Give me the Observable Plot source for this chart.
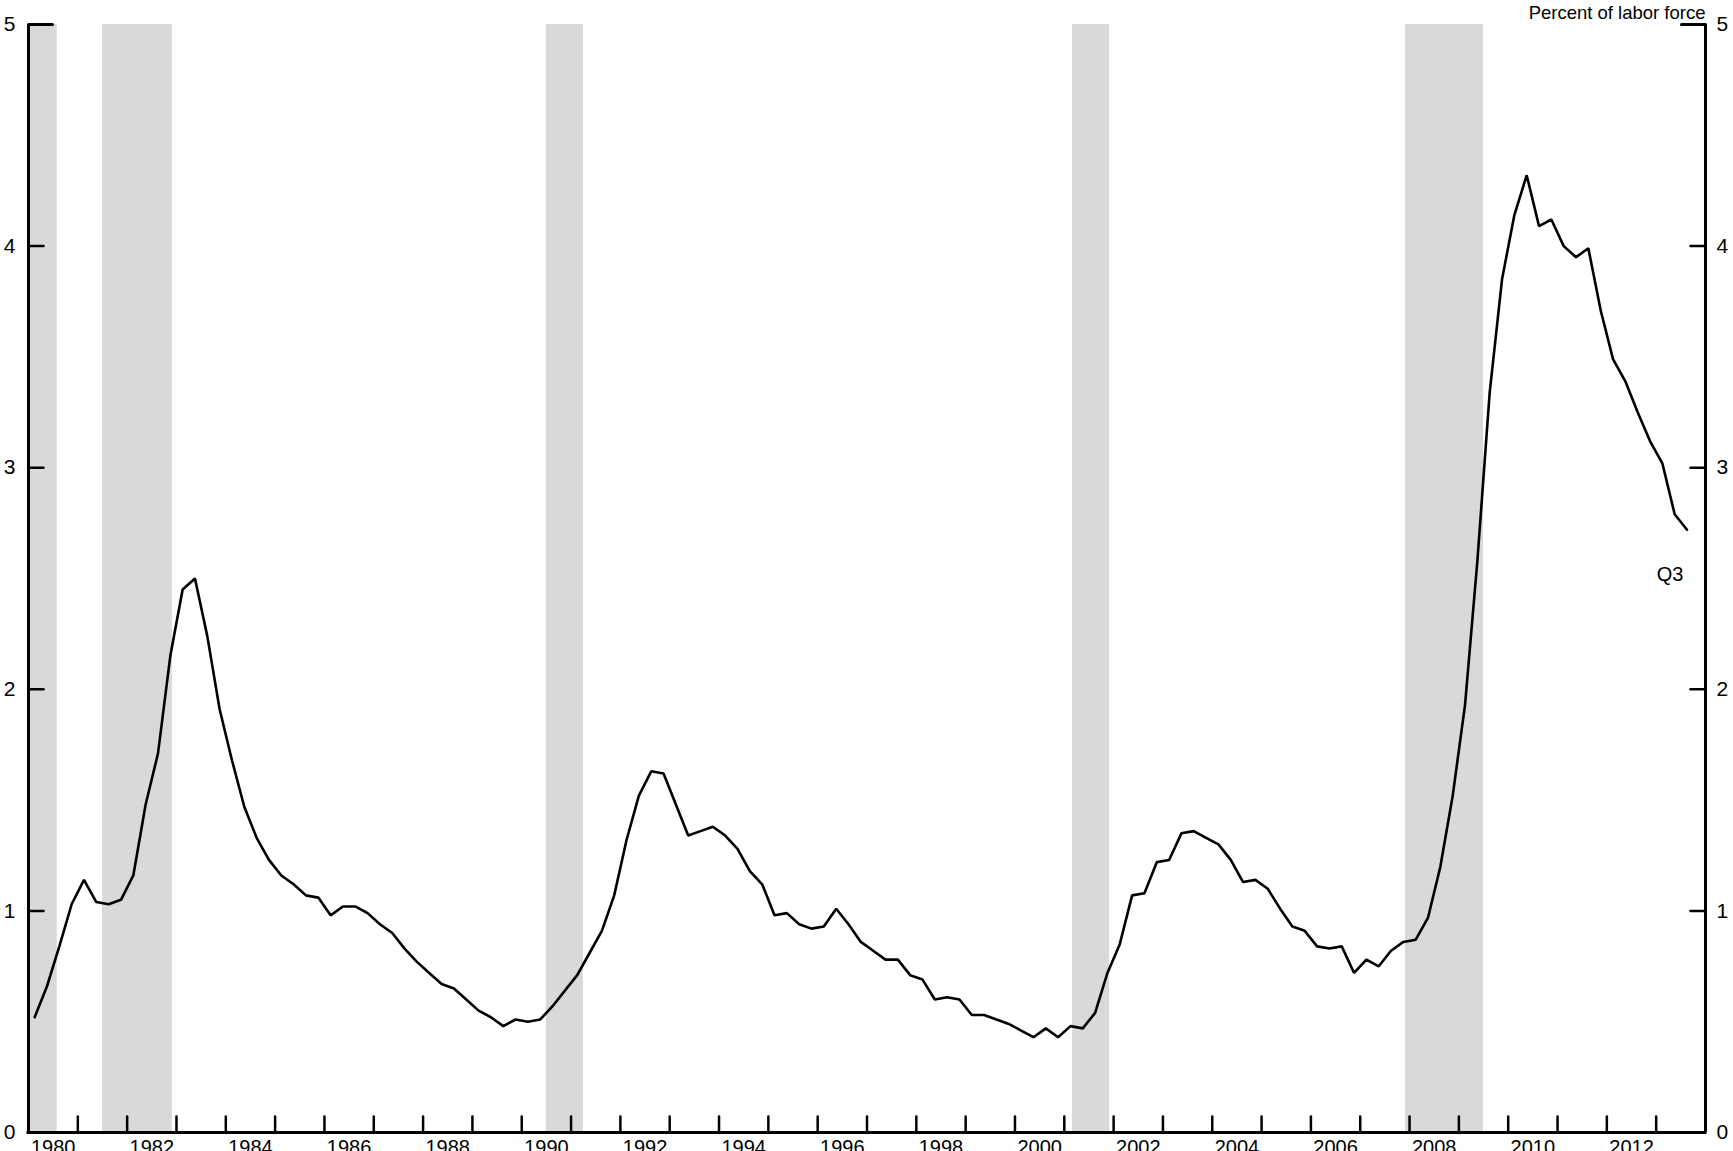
<!DOCTYPE html>
<html>
<head>
<meta charset="utf-8">
<script src="https://cdn.jsdelivr.net/npm/d3@7"></script>
<script src="https://cdn.jsdelivr.net/npm/@observablehq/plot@0.6"></script>
<style>
  html, body { margin: 0; padding: 0; background: white; overflow: hidden; }
</style>
</head>
<body>
<div id="chart"></div>
<script>
// Quarterly series, 1980 Q1 through 2013 Q3 (percent of labor force)
const startYear = 1980;
const rate = [
  0.52, 0.66, 0.84, 1.03,   // 1980
  1.14, 1.04, 1.03, 1.05,   // 1981
  1.16, 1.48, 1.71, 2.15,   // 1982
  2.45, 2.50, 2.24, 1.91,   // 1983
  1.68, 1.47, 1.33, 1.23,   // 1984
  1.16, 1.12, 1.07, 1.06,   // 1985
  0.98, 1.02, 1.02, 0.99,   // 1986
  0.94, 0.90, 0.83, 0.77,   // 1987
  0.72, 0.67, 0.65, 0.60,   // 1988
  0.55, 0.52, 0.48, 0.51,   // 1989
  0.50, 0.51, 0.57, 0.64,   // 1990
  0.71, 0.81, 0.91, 1.07,   // 1991
  1.32, 1.52, 1.63, 1.62,   // 1992
  1.48, 1.34, 1.36, 1.38,   // 1993
  1.34, 1.28, 1.18, 1.12,   // 1994
  0.98, 0.99, 0.94, 0.92,   // 1995
  0.93, 1.01, 0.94, 0.86,   // 1996
  0.82, 0.78, 0.78, 0.71,   // 1997
  0.69, 0.60, 0.61, 0.60,   // 1998
  0.53, 0.53, 0.51, 0.49,   // 1999
  0.46, 0.43, 0.47, 0.43,   // 2000
  0.48, 0.47, 0.54, 0.72,   // 2001
  0.85, 1.07, 1.08, 1.22,   // 2002
  1.23, 1.35, 1.36, 1.33,   // 2003
  1.30, 1.23, 1.13, 1.14,   // 2004
  1.10, 1.01, 0.93, 0.91,   // 2005
  0.84, 0.83, 0.84, 0.72,   // 2006
  0.78, 0.75, 0.82, 0.86,   // 2007
  0.87, 0.97, 1.20, 1.52,   // 2008
  1.93, 2.58, 3.34, 3.85,   // 2009
  4.14, 4.32, 4.09, 4.12,   // 2010
  4.00, 3.95, 3.99, 3.71,   // 2011
  3.49, 3.39, 3.25, 3.12,   // 2012
  3.02, 2.79, 2.72          // 2013
];

// Recession periods (fractional years)
const recessionStart = [1980.0, 1981.5, 1990.5, 2001.167, 2007.917];
const recessionEnd   = [1980.583, 1982.917, 1991.25, 2001.917, 2009.5];

const xDomain = [1980, 2014];
const xTickYears = d3.range(1981, 2014);
const xLabelYears = d3.range(1980, 2013, 2);
const yTicks = [0, 1, 2, 3, 4, 5];
const lastLabel = "Q3";
const unitLabel = "Percent of labor force";

const series = rate.map((v, i) => ({
  t: startYear + Math.floor(i / 4) + (i % 4) / 4 + 0.125,
  v
}));
const recessions = recessionStart.map((s, i) => ({start: s, end: recessionEnd[i]}));

const lineShape = {
  draw(context, l) { context.moveTo(0, 0); context.lineTo(0, -l); }
};

const font = "'Liberation Sans', Arial, Helvetica, sans-serif";

const chart = Plot.plot({
  width: 1733,
  height: 1151,
  marginLeft: 28,
  marginRight: 28,
  marginTop: 24,
  marginBottom: 19,
  style: {fontFamily: font, fontSize: "20px", background: "white", color: "black", overflow: "hidden"},
  x: {domain: xDomain, label: null},
  y: {domain: [0, 5], label: null},
  marks: [
    Plot.rect(recessions, {x1: "start", x2: "end", y1: 0, y2: 5, fill: "#d9d9d9"}),
    Plot.line(series, {x: "t", y: "v", stroke: "black", strokeWidth: 2.6, strokeLinejoin: "miter"}),
    // axis frame lines
    Plot.ruleX([xDomain[0], xDomain[1]], {y1: 0, y2: 5, stroke: "black", strokeWidth: 3}),
    Plot.ruleY([0], {stroke: "black", strokeWidth: 3, strokeLinecap: "square"}),
    // left ticks (inward)
    Plot.vector(yTicks.filter(d => d > 0 && d < 5), {x: xDomain[0], y: d => d, length: 15, rotate: 90, anchor: "start", shape: lineShape, stroke: "black", strokeWidth: 2.5}),
    Plot.vector(yTicks.filter(d => d === 5), {x: xDomain[0], y: d => d, length: 24, rotate: 90, anchor: "start", shape: lineShape, stroke: "black", strokeWidth: 3}),
    // right ticks (inward)
    Plot.vector(yTicks.filter(d => d > 0 && d < 5), {x: xDomain[1], y: d => d, length: 15, rotate: -90, anchor: "start", shape: lineShape, stroke: "black", strokeWidth: 2.5}),
    Plot.vector(yTicks.filter(d => d === 5), {x: xDomain[1], y: d => d, length: 24, rotate: -90, anchor: "start", shape: lineShape, stroke: "black", strokeWidth: 3}),
    // bottom ticks (upward)
    Plot.vector(xTickYears, {x: d => d, y: 0, length: 16, rotate: 0, anchor: "start", shape: lineShape, stroke: "black", strokeWidth: 2.5}),
    // axis labels
    Plot.axisY({anchor: "left", ticks: yTicks, tickSize: 0, tickPadding: 13, tickFormat: d => String(d), fontSize: 21, label: null}),
    Plot.axisY({anchor: "right", ticks: yTicks, tickSize: 0, tickPadding: 11, tickFormat: d => String(d), fontSize: 21, label: null}),
    Plot.axisX({anchor: "bottom", ticks: xLabelYears.map(y => y + 0.5), tickSize: 0, tickPadding: 7, tickFormat: d => String(Math.floor(d)), fontSize: 20, label: null}),
    Plot.text([unitLabel], {frameAnchor: "top-right", textAnchor: "end", lineAnchor: "bottom", dy: -6, fontSize: 18.5, fill: "black"}),
    Plot.text([series[series.length - 1]], {x: "t", y: "v", text: () => lastLabel, dx: -17, dy: 45, fontSize: 20, fill: "black"})
  ]
});
document.getElementById("chart").appendChild(chart);
</script>
</body>
</html>
